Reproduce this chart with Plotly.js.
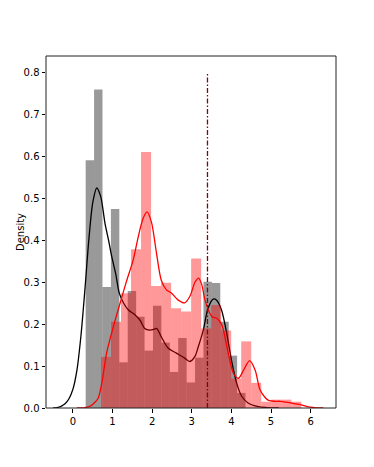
<!DOCTYPE html>
<html>
<head>
<meta charset="utf-8">
<script src="https://cdn.plot.ly/plotly-3.0.1.min.js"></script>
<style>
  html, body { margin: 0; padding: 0; background: white; }
  #graph-container { width: 374px; height: 467px; }
</style>
</head>
<body>
<div id="graph-container"></div>
<script>
// histogram of the first sample (grey), equal-width bins
const grayBinStart = 0.321;
const grayBinWidth = 0.2124;
const grayDensity = [0.591, 0.760, 0.289, 0.475, 0.109, 0.279, 0.218, 0.137, 0.244, 0.156,
                     0.086, 0.167, 0.061, 0.120, 0.301, 0.298, 0.206, 0.125, 0.036];

// histogram of the second sample (red)
const redBinStart = 0.708;
const redBinWidth = 0.2528;
const redDensity = [0.122, 0.206, 0.274, 0.379, 0.611, 0.291, 0.299, 0.238, 0.230, 0.357,
                    0.190, 0.246, 0.185, 0.070, 0.159, 0.060, 0.015, 0.020, 0.020, 0.015];

// kde curves
const grayKdeX = [-0.5, -0.4, -0.3, -0.2, -0.1, 0, 0.1, 0.2, 0.3, 0.4, 0.5, 0.6, 0.7, 0.81, 0.9, 0.98,
                  1.08, 1.17, 1.28, 1.4, 1.57, 1.69, 1.81, 1.94, 2.05, 2.11, 2.23, 2.4, 2.61, 2.82,
                  2.95, 3.08, 3.16, 3.29, 3.41, 3.54, 3.62, 3.75, 3.88, 4.0, 4.13, 4.26, 4.42, 4.68, 4.9, 5.2];
const grayKdeY = [0, 0.001, 0.004, 0.01, 0.022, 0.045, 0.09, 0.17, 0.28, 0.4, 0.49, 0.525, 0.505, 0.44,
                  0.4, 0.361, 0.32, 0.274, 0.25, 0.234, 0.222, 0.21, 0.19, 0.186, 0.188, 0.19, 0.17,
                  0.143, 0.131, 0.119, 0.111, 0.123, 0.145, 0.186, 0.238, 0.26, 0.258, 0.234, 0.179,
                  0.115, 0.06, 0.028, 0.012, 0.003, 0.001, 0];

const redKdeX = [0.1, 0.3, 0.45, 0.55, 0.64, 0.73, 0.85, 1.02, 1.19, 1.36, 1.52, 1.64, 1.77, 1.87, 1.98,
                 2.11, 2.23, 2.36, 2.49, 2.65, 2.82, 2.95, 3.08, 3.17, 3.25, 3.34, 3.51, 3.63, 3.76, 3.89,
                 4.05, 4.18, 4.31, 4.46, 4.6, 4.72, 4.85, 4.94, 5.1, 5.23, 5.49, 5.74, 5.99, 6.15, 6.32];
const redKdeY = [0, 0.001, 0.005, 0.013, 0.024, 0.06, 0.131, 0.194, 0.25, 0.305, 0.353, 0.405, 0.452,
                 0.468, 0.444, 0.369, 0.305, 0.282, 0.274, 0.258, 0.251, 0.266, 0.3, 0.31, 0.295, 0.255,
                 0.218, 0.214, 0.198, 0.145, 0.083, 0.071, 0.091, 0.113, 0.09, 0.044, 0.025, 0.018,
                 0.016, 0.016, 0.012, 0.008, 0.002, 0.0005, 0];

// threshold marker
const markerX = 3.396;
const markerTop = 0.8;

const xTicks = [0, 1, 2, 3, 4, 5, 6];
const yTicks = [0, 0.1, 0.2, 0.3, 0.4, 0.5, 0.6, 0.7, 0.8];

function binCenters(start, width, n) {
    return Array.from({ length: n }, (_, i) => start + width * (i + 0.5));
}

const graphContainer = document.getElementById('graph-container');

const traces = [
    {
        x: binCenters(grayBinStart, grayBinWidth, grayDensity.length),
        y: grayDensity,
        width: grayBinWidth,
        type: 'bar',
        marker: { color: 'rgba(0,0,0,0.4)', line: { width: 0 } },
        zorder: 0,
        hoverinfo: 'skip'
    },
    {
        x: grayKdeX,
        y: grayKdeY,
        type: 'scatter',
        mode: 'lines',
        line: { color: 'black', width: 1.3, shape: 'spline', smoothing: 0.8 },
        zorder: 1
    },
    {
        x: binCenters(redBinStart, redBinWidth, redDensity.length),
        y: redDensity,
        width: redBinWidth,
        type: 'bar',
        marker: { color: 'rgba(255,0,0,0.4)', line: { width: 0 } },
        zorder: 2,
        hoverinfo: 'skip'
    },
    {
        x: redKdeX,
        y: redKdeY,
        type: 'scatter',
        mode: 'lines',
        line: { color: 'red', width: 1.3, shape: 'spline', smoothing: 0.8 },
        zorder: 3
    },
    {
        x: [markerX, markerX],
        y: [0, markerTop],
        type: 'scatter',
        mode: 'lines',
        line: { color: '#8b0000', width: 1.3, dash: '5px,2px,1.5px,2px' },
        zorder: 4
    }
];

const axisStyle = {
    ticks: 'outside',
    ticklen: 3.5,
    tickwidth: 1,
    tickcolor: 'black',
    showline: false,
    showgrid: false,
    zeroline: false
};

const layout = {
    width: 374,
    height: 467,
    margin: { l: 46, r: 38, t: 56, b: 59 },
    showlegend: false,
    barmode: 'overlay',
    plot_bgcolor: 'white',
    paper_bgcolor: 'white',
    font: { family: 'DejaVu Sans', size: 10, color: 'black' },
    xaxis: Object.assign({
        range: [-0.68, 6.64],
        tickvals: xTicks,
        ticktext: xTicks.map(String)
    }, axisStyle),
    yaxis: Object.assign({
        range: [0, 0.84],
        tickvals: yTicks,
        ticktext: yTicks.map(v => v.toFixed(1))
    }, axisStyle),
    // axes frame
    shapes: [{
        type: 'rect',
        xref: 'paper',
        yref: 'paper',
        x0: 0, x1: 1, y0: 0, y1: 1,
        line: { color: '#222', width: 1 },
        fillcolor: 'rgba(0,0,0,0)',
        layer: 'above'
    }],
    annotations: [{
        text: 'Density',
        xref: 'paper',
        yref: 'paper',
        x: -0.0897,
        y: 0.5,
        xanchor: 'center',
        yanchor: 'middle',
        textangle: -90,
        showarrow: false,
        font: { size: 10 }
    }]
};

Plotly.newPlot(graphContainer, traces, layout, { staticPlot: true });
</script>
</body>
</html>
